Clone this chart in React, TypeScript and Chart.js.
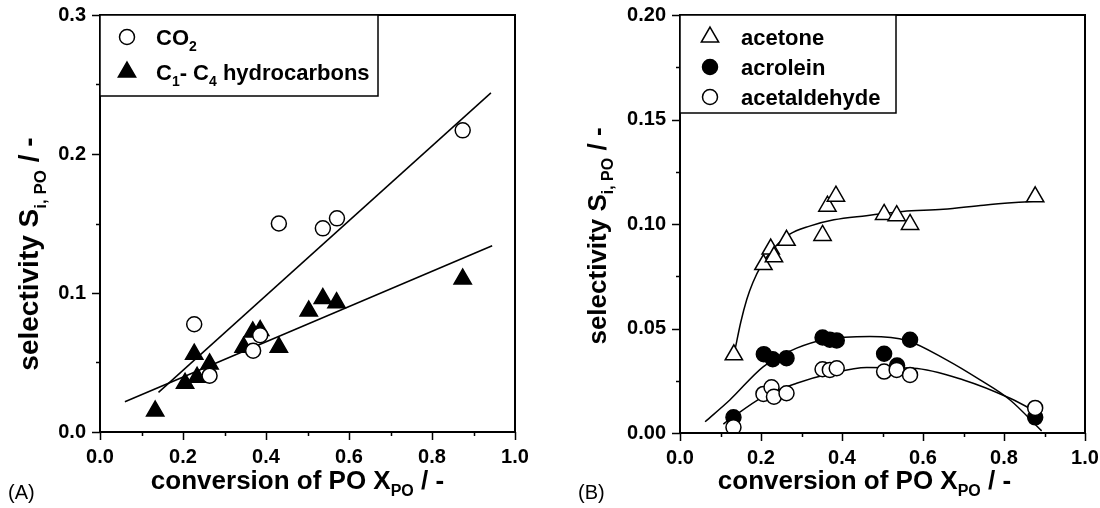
import React, { useEffect, useRef } from 'react';
import { Chart, registerables } from 'chart.js';

Chart.register(...registerables);

// ---------- Panel A data ----------
const co2X = [0.227, 0.264, 0.369, 0.386, 0.431, 0.537, 0.571, 0.874];
const co2Y = [0.0775, 0.0405, 0.0585, 0.0696, 0.150, 0.1465, 0.1537, 0.217];
const hcX = [0.133, 0.205, 0.227, 0.234, 0.264, 0.346, 0.368, 0.386, 0.431, 0.503, 0.537, 0.570, 0.874];
const hcY = [0.0151, 0.035, 0.056, 0.0393, 0.049, 0.061, 0.072, 0.073, 0.061, 0.087, 0.096, 0.093, 0.110];
const co2FitX = [0.141, 0.942];
const co2FitY = [0.0285, 0.244];
const hcFitX = [0.060, 0.945];
const hcFitY = [0.0218, 0.134];

// ---------- Panel B data ----------
const acetoneX = [0.133, 0.206, 0.224, 0.232, 0.263, 0.352, 0.364, 0.385, 0.504, 0.535, 0.568, 0.877];
const acetoneY = [0.0374, 0.0806, 0.088, 0.0843, 0.0922, 0.0945, 0.1085, 0.1133, 0.1046, 0.104, 0.0998, 0.113];
const acroleinX = [0.132, 0.207, 0.229, 0.263, 0.352, 0.370, 0.387, 0.504, 0.536, 0.568, 0.877];
const acroleinY = [0.0075, 0.0377, 0.0353, 0.0358, 0.0457, 0.0446, 0.0443, 0.0379, 0.0323, 0.0446, 0.0075];
const acetaldehydeX = [0.132, 0.206, 0.226, 0.232, 0.263, 0.352, 0.370, 0.387, 0.504, 0.535, 0.568, 0.877];
const acetaldehydeY = [0.0027, 0.0187, 0.0219, 0.0174, 0.019, 0.0305, 0.0302, 0.031, 0.0294, 0.0302, 0.0278, 0.012];

const acetoneFitX = [0.136, 0.15, 0.165, 0.18, 0.2, 0.23, 0.27, 0.32, 0.38, 0.46, 0.55, 0.65, 0.75, 0.88];
const acetoneFitY = [0.040, 0.053, 0.064, 0.072, 0.080, 0.088, 0.095, 0.099, 0.102, 0.104, 0.106, 0.107, 0.109, 0.111];
const acroleinFitX = [0.062, 0.123, 0.206, 0.288, 0.362, 0.469, 0.56, 0.658, 0.741, 0.815, 0.893];
const acroleinFitY = [0.0054, 0.0158, 0.0318, 0.0406, 0.0449, 0.0462, 0.0443, 0.035, 0.0254, 0.0158, 0.001];
const acetaldehydeFitX = [0.107, 0.206, 0.288, 0.370, 0.461, 0.576, 0.700, 0.815, 0.89];
const acetaldehydeFitY = [0.0043, 0.0174, 0.0238, 0.0283, 0.0313, 0.031, 0.0254, 0.0166, 0.009];

// ---------- ticks ----------
const xMajor = [0, 0.2, 0.4, 0.6, 0.8, 1.0];
const xMinor = [0.1, 0.3, 0.5, 0.7, 0.9];
const yMajorA = [0, 0.1, 0.2, 0.3];
const yMinorA = [0.05, 0.15, 0.25];
const yMajorB = [0, 0.05, 0.1, 0.15, 0.2];
const yMinorB = [0.025, 0.075, 0.125, 0.175];

const FONT = '"Liberation Sans", Arial, Helvetica, sans-serif';

type Part = { t: string; sub?: boolean };

const zip = (xs: number[], ys: number[]) => xs.map((x, i) => ({ x, y: ys[i] }));

function richWidth(ctx: CanvasRenderingContext2D, parts: Part[], size: number) {
  let w = 0;
  for (const p of parts) {
    ctx.font = `bold ${p.sub ? Math.round(size * 0.62) : size}px ${FONT}`;
    w += ctx.measureText(p.t).width;
  }
  return w;
}

function drawRich(ctx: CanvasRenderingContext2D, parts: Part[], x: number, y: number, size: number, align: 'left' | 'center') {
  const total = richWidth(ctx, parts, size);
  let cx = align === 'center' ? x - total / 2 : x;
  ctx.textAlign = 'left';
  ctx.textBaseline = 'alphabetic';
  for (const p of parts) {
    const s = p.sub ? Math.round(size * 0.62) : size;
    ctx.font = `bold ${s}px ${FONT}`;
    ctx.fillText(p.t, cx, p.sub ? y + size * 0.28 : y);
    cx += ctx.measureText(p.t).width;
  }
}

function drawMarker(ctx: CanvasRenderingContext2D, kind: string, x: number, y: number) {
  ctx.save();
  ctx.lineWidth = 1.5;
  ctx.strokeStyle = '#000';
  ctx.beginPath();
  if (kind === 'circleOpen' || kind === 'circleFilled') {
    ctx.arc(x, y, 7.5, 0, Math.PI * 2);
    ctx.fillStyle = kind === 'circleFilled' ? '#000' : '#fff';
  } else {
    const r = 10;
    ctx.moveTo(x, y - r);
    ctx.lineTo(x + r * Math.sin((2 * Math.PI) / 3), y - r * Math.cos((2 * Math.PI) / 3));
    ctx.lineTo(x + r * Math.sin((4 * Math.PI) / 3), y - r * Math.cos((4 * Math.PI) / 3));
    ctx.closePath();
    ctx.fillStyle = kind === 'triFilled' ? '#000' : '#fff';
  }
  ctx.fill();
  ctx.stroke();
  ctx.restore();
}

type PanelCfg = {
  yMajor: number[];
  yMinor: number[];
  yDigits: number;
  yMax: number;
  yStep: number;
  axisWidth: number;
  padRight: number;
  xAxisHeight: number;
  xTitleShift: number;
  yTitleX: number;
  yTitleCY: number;
  yTitleSize: number;
  panelLabel: string;
  panelLabelX: number;
  legend: { kind: string; parts: Part[] }[];
  legendW: number;
  legendH: number;
  legendMarkerX: number;
  legendTextX: number;
  legendRowY: number[];
  datasets: any[];
};

function makeChart(canvas: HTMLCanvasElement, cfg: PanelCfg) {
  const overlay = {
    id: 'overlay',
    afterDraw(chart: any) {
      const ctx: CanvasRenderingContext2D = chart.ctx;
      const { left, right, top, bottom } = chart.chartArea;
      const xs = chart.scales.x;
      const ys = chart.scales.y;
      ctx.save();
      ctx.strokeStyle = '#000';
      ctx.fillStyle = '#000';
      // frame
      ctx.lineWidth = 2;
      ctx.strokeRect(left, top, right - left, bottom - top);
      // ticks
      ctx.lineWidth = 1.5;
      ctx.beginPath();
      for (const v of xMajor) {
        const p = Math.round(xs.getPixelForValue(v)) + 0.5;
        ctx.moveTo(p, bottom);
        ctx.lineTo(p, bottom + 8);
      }
      for (const v of xMinor) {
        const p = Math.round(xs.getPixelForValue(v)) + 0.5;
        ctx.moveTo(p, bottom);
        ctx.lineTo(p, bottom + 4);
      }
      for (const v of cfg.yMajor) {
        const p = Math.round(ys.getPixelForValue(v)) + 0.5;
        ctx.moveTo(left, p);
        ctx.lineTo(left - 8, p);
      }
      for (const v of cfg.yMinor) {
        const p = Math.round(ys.getPixelForValue(v)) + 0.5;
        ctx.moveTo(left, p);
        ctx.lineTo(left - 4, p);
      }
      ctx.stroke();

      // x title
      const xTitle: Part[] = [{ t: 'conversion of PO X' }, { t: 'PO', sub: true }, { t: ' / -' }];
      drawRich(ctx, xTitle, (left + right) / 2 + cfg.xTitleShift, 489, 26, 'center');
      // y title
      const yTitle: Part[] = [{ t: 'selectivity S' }, { t: 'i, PO', sub: true }, { t: ' / -' }];
      ctx.save();
      ctx.translate(cfg.yTitleX, cfg.yTitleCY);
      ctx.rotate(-Math.PI / 2);
      drawRich(ctx, yTitle, 0, cfg.yTitleSize * 0.35, cfg.yTitleSize, 'center');
      ctx.restore();

      // panel label
      ctx.font = `20px ${FONT}`;
      ctx.textAlign = 'left';
      ctx.textBaseline = 'middle';
      ctx.fillText(cfg.panelLabel, cfg.panelLabelX, 493);

      // legend
      ctx.lineWidth = 1.5;
      ctx.fillStyle = '#fff';
      ctx.fillRect(left, top, cfg.legendW, cfg.legendH);
      ctx.strokeRect(left, top, cfg.legendW, cfg.legendH);
      ctx.fillStyle = '#000';
      cfg.legend.forEach((item, i) => {
        const yy = top + cfg.legendRowY[i];
        drawMarker(ctx, item.kind, left + cfg.legendMarkerX, yy);
        ctx.fillStyle = '#000';
        drawRich(ctx, item.parts, left + cfg.legendTextX, yy + 8, 22, 'left');
      });
      ctx.restore();
    },
  };

  return new Chart(canvas, {
    type: 'scatter',
    data: { datasets: cfg.datasets },
    options: {
      animation: false,
      responsive: false,
      devicePixelRatio: 1,
      events: [],
      layout: { padding: { left: 0, right: cfg.padRight, top: 15, bottom: 0 } },
      plugins: { legend: { display: false }, tooltip: { enabled: false } },
      scales: {
        x: {
          type: 'linear',
          min: 0,
          max: 1,
          grid: { display: false, drawTicks: false },
          border: { display: false },
          ticks: {
            stepSize: 0.2,
            padding: 13,
            color: '#000',
            font: { family: FONT, size: 20, weight: 'bold' },
            callback: (v: any) => Number(v).toFixed(1),
          },
          afterFit: (s: any) => {
            s.height = cfg.xAxisHeight;
            s.paddingLeft = 0;
            s.paddingRight = 0;
          },
        },
        y: {
          type: 'linear',
          min: 0,
          max: cfg.yMax,
          grid: { display: false, drawTicks: false },
          border: { display: false },
          ticks: {
            stepSize: cfg.yStep,
            padding: 14,
            color: '#000',
            font: { family: FONT, size: 20, weight: 'bold' },
            callback: (v: any) => Number(v).toFixed(cfg.yDigits),
          },
          afterFit: (s: any) => {
            s.width = cfg.axisWidth;
            s.paddingTop = 0;
            s.paddingBottom = 0;
          },
        },
      },
    } as any,
    plugins: [overlay],
  });
}

const openCircle = { pointStyle: 'circle', pointRadius: 7.5, pointBorderWidth: 1.5, pointBorderColor: '#000', pointBackgroundColor: '#fff', showLine: false };
const filledCircle = { pointStyle: 'circle', pointRadius: 7.5, pointBorderWidth: 1.5, pointBorderColor: '#000', pointBackgroundColor: '#000', showLine: false };
const openTri = { pointStyle: 'triangle', pointRadius: 10, pointBorderWidth: 1.5, pointBorderColor: '#000', pointBackgroundColor: '#fff', showLine: false };
const filledTri = { pointStyle: 'triangle', pointRadius: 10, pointBorderWidth: 1.5, pointBorderColor: '#000', pointBackgroundColor: '#000', showLine: false };
const fitLine = { showLine: true, pointRadius: 0, borderColor: '#000', borderWidth: 1.5, fill: false };

export default function App() {
  const refA = useRef<HTMLCanvasElement>(null);
  const refB = useRef<HTMLCanvasElement>(null);

  useEffect(() => {
    const a = makeChart(refA.current!, {
      yMajor: yMajorA,
      yMinor: yMinorA,
      yDigits: 1,
      yMax: 0.3,
      yStep: 0.1,
      axisWidth: 100,
      padRight: 35,
      xAxisHeight: 76,
      xTitleShift: -10,
      yTitleX: 28,
      yTitleCY: 254,
      yTitleSize: 28,
      panelLabel: '(A)',
      panelLabelX: 8,
      legend: [
        { kind: 'circleOpen', parts: [{ t: 'CO' }, { t: '2', sub: true }] },
        { kind: 'triFilled', parts: [{ t: 'C' }, { t: '1', sub: true }, { t: '- C' }, { t: '4', sub: true }, { t: ' hydrocarbons' }] },
      ],
      legendW: 278,
      legendH: 81,
      legendMarkerX: 27,
      legendTextX: 56,
      legendRowY: [22, 57],
      datasets: [
        { label: 'CO2', data: zip(co2X, co2Y), ...openCircle },
        { label: 'C1-C4 hydrocarbons', data: zip(hcX, hcY), ...filledTri },
        { label: 'CO2 fit', data: zip(co2FitX, co2FitY), ...fitLine },
        { label: 'HC fit', data: zip(hcFitX, hcFitY), ...fitLine },
      ],
    });
    const b = makeChart(refB.current!, {
      yMajor: yMajorB,
      yMinor: yMinorB,
      yDigits: 2,
      yMax: 0.2,
      yStep: 0.05,
      axisWidth: 130,
      padRight: 15,
      xAxisHeight: 75,
      xTitleShift: -18,
      yTitleX: 47,
      yTitleCY: 236,
      yTitleSize: 26,
      panelLabel: '(B)',
      panelLabelX: 28,
      legend: [
        { kind: 'triOpen', parts: [{ t: 'acetone' }] },
        { kind: 'circleFilled', parts: [{ t: 'acrolein' }] },
        { kind: 'circleOpen', parts: [{ t: 'acetaldehyde' }] },
      ],
      legendW: 216,
      legendH: 98,
      legendMarkerX: 30,
      legendTextX: 61,
      legendRowY: [22, 52, 82],
      datasets: [
        { label: 'acetaldehyde', data: zip(acetaldehydeX, acetaldehydeY), ...openCircle },
        { label: 'acrolein', data: zip(acroleinX, acroleinY), ...filledCircle },
        { label: 'acetone', data: zip(acetoneX, acetoneY), ...openTri },
        { label: 'acetone fit', data: zip(acetoneFitX, acetoneFitY), ...fitLine, cubicInterpolationMode: 'monotone' },
        { label: 'acrolein fit', data: zip(acroleinFitX, acroleinFitY), ...fitLine, cubicInterpolationMode: 'monotone' },
        { label: 'acetaldehyde fit', data: zip(acetaldehydeFitX, acetaldehydeFitY), ...fitLine, cubicInterpolationMode: 'monotone' },
      ],
    });
    return () => {
      a.destroy();
      b.destroy();
    };
  }, []);

  return (
    <div style={{ position: 'absolute', left: 0, top: 0, width: 1100, height: 508, background: '#fff' }}>
      <canvas ref={refA} width={550} height={508} style={{ position: 'absolute', left: 0, top: 0, width: 550, height: 508 }} />
      <canvas ref={refB} width={550} height={508} style={{ position: 'absolute', left: 550, top: 0, width: 550, height: 508 }} />
    </div>
  );
}
